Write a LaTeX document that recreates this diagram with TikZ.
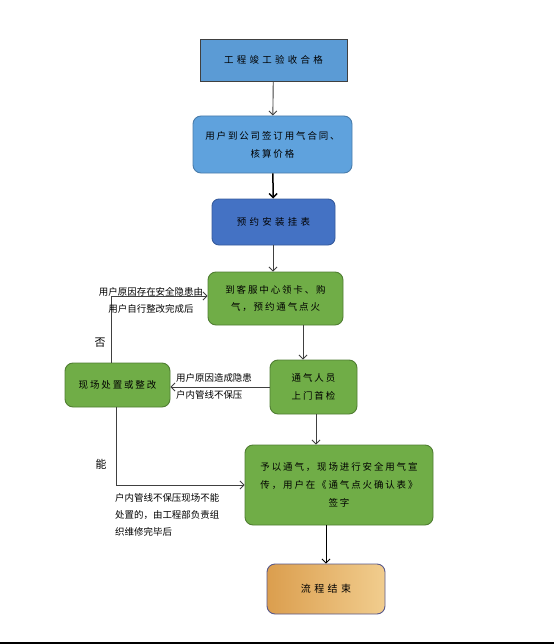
\documentclass[tikz,border=0pt]{standalone}
\usepackage{fontspec}
\newfontfamily\cjk{Noto Sans CJK SC}
\newfontfamily\cjkbox[LetterSpace=20]{Noto Sans CJK SC}
\newfontfamily\cjkwide[LetterSpace=35]{Noto Sans CJK SC}
\usetikzlibrary{arrows.meta}
\definecolor{bluemid}{HTML}{5B9BD5}
\definecolor{bluelight}{HTML}{5FA2DD}
\definecolor{bluedark}{HTML}{4472C4}
\definecolor{greenbox}{HTML}{70AD47}
\definecolor{greenline}{HTML}{507E32}
\definecolor{orangeL}{HTML}{DB9E4E}
\definecolor{orangeR}{HTML}{F1CD8E}
\begin{document}
\begin{tikzpicture}[x=1bp,y=-1bp]
    % Node styles
    \tikzset{step box/.style={draw,minimum width=#1,inner sep=2bp,align=center,
        font=\fontsize{9.5}{18}\cjkbox,line width=0.9bp},
      blue box/.style={step box=#1,fill=bluemid,draw=black!75},
      green box/.style={step box=#1,fill=greenbox,draw=greenline,rounded corners=8bp},
      note/.style={font=\fontsize{9.5}{17}\cjk,inner sep=0pt},
      arr/.style={draw=black!75,line width=0.9bp,-{Straight Barb[length=4bp,width=8bp]}}}
    \useasboundingbox (0,0) rectangle (554,644);

    % --- Main column ---
    \node[blue box=147bp, minimum height=42bp, font=\fontsize{9.5}{18}\cjkwide] (accept) at (273.5,60) {工程竣工验收合格};
    \node[step box=159bp, minimum height=57bp, fill=bluelight, draw=bluemid!80!black, rounded corners=8bp] (contract) at (272.5,144.5) {用户到公司签订用气合同、\\核算价格};
    \node[step box=123bp, minimum height=46bp, fill=bluedark, draw=bluedark!80!black, rounded corners=7bp, font=\fontsize{9.5}{18}\cjkwide] (install) at (273.5,222) {预约安装挂表};
    \node[green box=135bp, minimum height=53bp] (card) at (275.5,298.5) {到客服中心领卡、购\\气，预约通气点火};
    \node[green box=87bp, minimum height=54bp] (check) at (313.5,387) {通气人员\\上门首检};
    \node[green box=105bp, minimum height=44bp] (fix) at (117.5,385) {现场处置或整改};
    \node[green box=188bp, minimum height=80bp] (ignite) at (339,485) {予以通气，现场进行安全用气宣\\传，用户在《通气点火确认表》\\签字};
    \node[step box=118bp, minimum height=50bp, left color=orangeL, right color=orangeR, draw=black!35!blue!30!gray, rounded corners=8bp, font=\fontsize{10}{18}\cjkwide] (finish) at (326,589) {流程结束};

    % Edges down the column
    \draw[arr] (accept) -- (contract);
    \draw[arr, draw=black, line width=1.5bp] (contract) -- (install);
    \draw[arr] ([xshift=-0.5bp]install.south) -- ([xshift=-0.5bp]install.south |- card.north);
    \draw[arr] ([xshift=27.5bp]card.south) -- ([xshift=27.5bp]card.south |- check.north);
    \draw[arr] ([xshift=2.5bp]check.south) -- ([xshift=2.5bp]check.south |- ignite.north);
    \draw[arr, draw=black] (finish.north |- ignite.south) -- (finish.north);

    % --- Side loop ---
    \draw[arr] (check.west) -- (check.west -| fix.east);
    \draw[arr] ([xshift=-6.5bp]fix.north) |- ([yshift=2.5bp]card.west);
    \draw[arr] ([xshift=-1.5bp]fix.south) |- (ignite.west);

    % Edge labels
    \node[note, align=center] (reasonA) at (151,300.5) {用户原因存在安全隐患由\\用户自行整改完成后};
    \node[note, align=left, anchor=west] (reasonB) at (176,386) {用户原因造成隐患\\户内管线不保压};
    \node[note, align=left, anchor=north west] (reasonC) at (115,493) {户内管线不保压现场不能\\处置的，由工程部负责组\\织维修完毕后};
    \node[note, font=\fontsize{11}{13}\cjk] (no) at (100,343) {否};
    \node[note, font=\fontsize{11}{13}\cjk] (yes) at (101,464) {能};

    % Bottom rule
    \coordinate (ruleL) at (0,642.8);
    \coordinate (ruleR) at (554,642.8);
    \draw[line width=1.6bp] (ruleL) -- (ruleR);
\end{tikzpicture}
\end{document}
